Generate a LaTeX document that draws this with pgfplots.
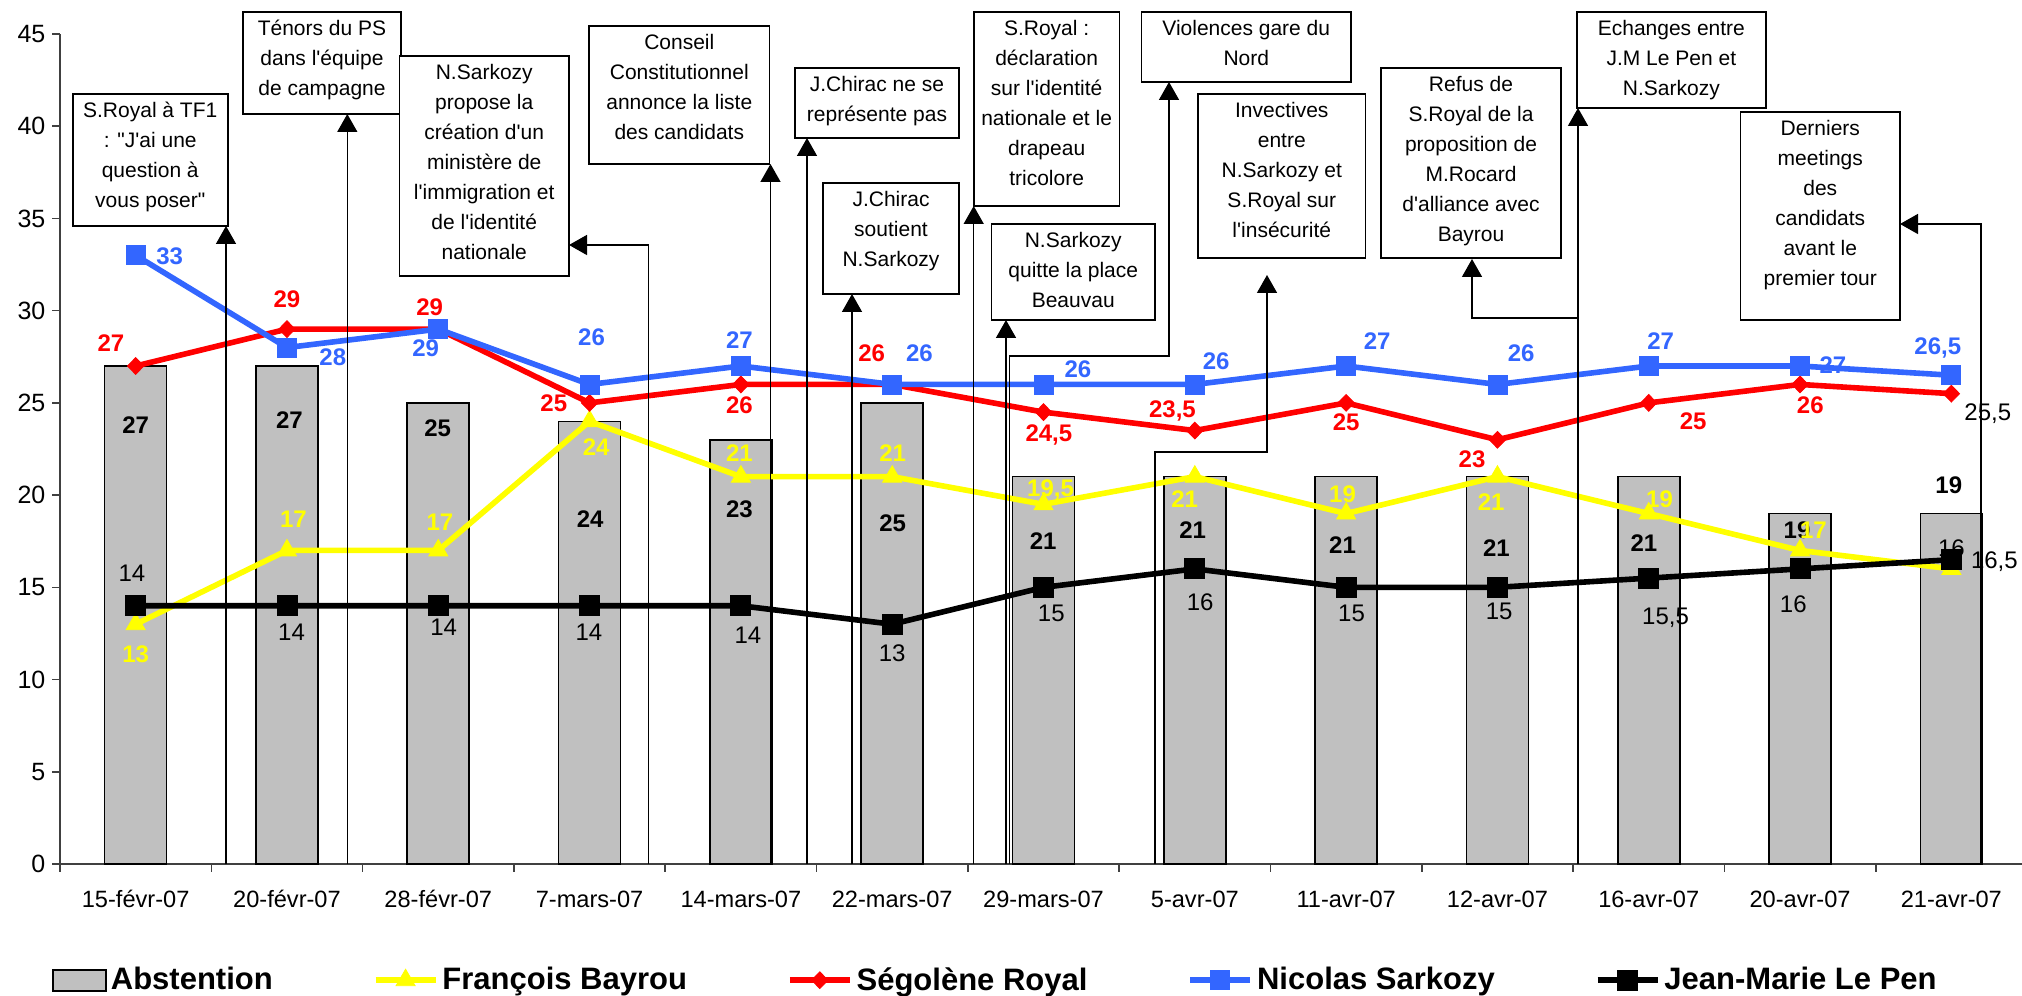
\documentclass[border=0pt]{standalone}
\usepackage{fontspec}
\setmainfont{Liberation Sans}[Ligatures=TeXOff]
\usepackage{pgfplots}
\usepackage{pgfplotstable}
\pgfplotsset{compat=1.18}
\usetikzlibrary{arrows.meta}

\definecolor{absgray}{RGB}{192,192,192}
\definecolor{sarblue}{RGB}{51,102,255}
\definecolor{bayyellow}{RGB}{255,255,0}

% x y label, then the label offset dx dy in pt
\pgfplotstableread{
x y lab dx dy
0 27 27 0 -29.5
1 27 27 1.2 -27.3
2 25 25 -0.3 -12.4
3 24 24 0.3 -48.8
4 23 23 -0.7 -34.8
5 25 25 0.2 -59.9
6 21 21 -0.2 -32
7 21 21 -1.1 -26.6
8 21 21 -1.8 -34.2
9 21 21 -0.5 -35.8
10 21 21 -2.4 -33
11 19 19 -1.5 -8.2
12 19 19 -1.3 14.3
}\tabAbs

\pgfplotstableread{
x y lab dx dy
0 13 13 0 -14.9
1 17 17 3.2 15.7
2 17 17 0.8 13.9
3 24 24 3.3 -12.7
4 21 21 -0.7 11.7
5 21 21 0.2 11.7
6 19.5 19,5 3.5 8.3
7 21 21 -5.1 -11.3
8 19 19 -1.8 9.8
9 21 21 -3.1 -12.5
10 19 19 5.4 7.2
11 17 17 6.7 10.2
12 16 {} 0 10.3
}\tabBay

\pgfplotstableread{
x y lab dx dy
0 27 27 -12.4 11.4
1 29 29 0 15
2 29 29 -4.3 11.2
3 25 25 -17.9 0
4 26 26 -0.7 -10.3
5 26 26 -10.3 15.5
6 24.5 24,5 2.7 -10.6
7 23.5 23,5 -11.2 10.6
8 25 25 0 -9.4
9 23 23 -12.7 -9.6
10 25 25 22.2 -9
11 26 26 5.1 -10.3
12 25.5 {} 18.2 -9.3
}\tabRoy

\pgfplotstableread{
x y lab dx dy
0 33 33 17 -0.3
1 28 28 22.9 -4.6
2 29 29 -6.3 -9.6
3 26 26 1 23.6
4 27 27 -0.7 12.7
5 26 26 13.6 15.5
6 26 26 17.2 7.7
7 26 26 10.7 11.7
8 27 27 15.5 12.2
9 26 26 11.9 15.5
10 27 27 6 12.2
11 27 27 16.4 0.5
12 26.5 26,5 -6.8 14.8
}\tabSar

\pgfplotstableread{
x y lab dx dy
0 14 14 -1.9 16.3
1 14 14 2.3 -13
2 14 14 2.7 -10.5
3 14 14 -0.3 -13
4 14 14 3.5 -14.6
5 13 13 0 -14.6
6 15 15 3.9 -13
7 16 16 2.7 -16.4
8 15 15 2.7 -13
9 15 15 0.9 -12.2
10 15.5 15,5 8.4 -19
11 16 16 -3.4 -17.6
12 16.5 16,5 21.5 0
}\tabLep

\pgfplotsset{
  lab/.style={
    nodes near coords,
    point meta=explicit symbolic,
    visualization depends on={\thisrow{dx}\as\labdx},
    visualization depends on={\thisrow{dy}\as\labdy},
    every node near coord/.append style={anchor=center, inner sep=0pt,
      text depth=0pt, xshift=\labdx pt, yshift=\labdy pt,
      font=\fontsize{12pt}{14pt}\selectfont#1},
  },
  lab/.default=\bfseries,
}

% annotation box: x1 y1 x2 y2 (pixels of the reference), text
\newcommand\abox[5]{%
  \draw[line width=0.8pt, fill=white] (#1,#2) rectangle (#3,#4);
  \node[anchor=north, inner sep=0pt, align=center,
        font=\fontsize{10.5pt}{15pt}\selectfont]
    at ({(#1+#3)/2},{#2+4}) {\rule{0pt}{9.5pt}#5};}

\begin{document}
\begin{tikzpicture}
\begin{axis}[
  at={(0pt,0pt)}, anchor=south west,
  width=983.5pt, height=415pt, scale only axis,
  axis lines*=left,
  axis line style={line width=0.8pt, black!75},
  tick style={line width=0.8pt, black!75},
  tick align=outside,
  major tick length=3.8pt,
  clip=false,
  xmin=-0.5, xmax=12.5,
  ymin=0, ymax=45,
  ytick={0,5,...,45},
  xtick={-0.5,0.5,...,12.5},
  xticklabels={},
  extra x ticks={0,...,12},
  extra x tick labels={15-févr-07,20-févr-07,28-févr-07,7-mars-07,14-mars-07,22-mars-07,29-mars-07,5-avr-07,11-avr-07,12-avr-07,16-avr-07,20-avr-07,21-avr-07},
  extra x tick style={major tick length=0pt},
  xticklabel style={anchor=base, yshift=-21.7pt, font=\fontsize{11.8pt}{14pt}\selectfont},
  yticklabel style={font=\fontsize{12.5pt}{14pt}\selectfont},
  /pgf/number format/assume math mode=true,
  legend columns=5,
  legend cell align=left,
  legend style={draw=none, fill=none, inner sep=0pt,
    at={(-0.0041,-0.14)}, anchor=west,
    font=\fontsize{15.5pt}{18pt}\selectfont\bfseries,
    /tikz/every even column/.append style={column sep=48pt}},
  legend image code/.code={\draw[mark repeat=2,mark phase=2,#1]
    plot coordinates {(0pt,0pt) (15pt,0pt) (30pt,0pt)};},
]
\addplot[ybar, bar width=31pt, fill=absgray, draw=black, line width=0.8pt, lab,
  nodes near coords style={text=black},
  legend image code/.code={\draw[fill=absgray,draw=black,line width=0.8pt]
    (0pt,-5.25pt) rectangle (26.5pt,5.25pt);}]
  table[x=x, y=y, meta=lab] {\tabAbs};
\addplot[bayyellow, line width=2.8pt, mark=triangle*, mark size=5.5pt,
  mark options={solid, line width=0.4pt, fill=bayyellow}, lab]
  table[x=x, y=y, meta=lab] {\tabBay};
\addplot[red, line width=2.8pt, mark=diamond*, mark size=4.2pt,
  mark options={solid, line width=0.4pt, fill=red, xscale=1.3}, lab]
  table[x=x, y=y, meta=lab] {\tabRoy};
\addplot[sarblue, line width=2.8pt, mark=square*, mark size=4.75pt,
  mark options={solid, line width=0.4pt, fill=sarblue}, lab]
  table[x=x, y=y, meta=lab] {\tabSar};
\addplot[black, line width=2.8pt, mark=square*, mark size=5pt,
  mark options={solid, line width=0.4pt, fill=black}, lab={}]
  table[x=x, y=y, meta=lab] {\tabLep};
\legend{Abstention, François Bayrou, Ségolène Royal, Nicolas Sarkozy, Jean-Marie Le Pen}

% the two labels that Excel set in black regular type
\node[font=\fontsize{12pt}{14pt}\selectfont, inner sep=0pt, text depth=0pt,
  xshift=0pt, yshift=10.3pt] at (axis cs:12,16) {16};
\node[font=\fontsize{12pt}{14pt}\selectfont, inner sep=0pt, text depth=0pt,
  xshift=18.2pt, yshift=-9.3pt] at (axis cs:12,25.5) {25,5};
\end{axis}

% events, placed in the reference's pixel grid
\begin{scope}[x=0.5pt, y=-0.5pt, shift={(-30pt,432pt)}]
\tikzset{arr/.style={line width=0.75pt, -{Triangle[length=9pt,width=10pt]}}}
\abox{72.8}{94}{227.7}{226}{S.Royal à TF1\\: "J'ai une\\question à\\vous poser"}
\abox{243}{12}{401}{114}{Ténors du PS\\dans l'équipe\\de campagne}
\abox{399.5}{56}{569}{276}{N.Sarkozy\\propose la\\création d'un\\ministère de\\l'immigration et\\de l'identité\\nationale}
\abox{589}{26}{769.6}{164}{Conseil\\Constitutionnel\\annonce la liste\\des candidats}
\abox{795}{68}{959}{138}{J.Chirac ne se\\représente pas}
\abox{823}{183}{959}{294}{J.Chirac\\soutient\\N.Sarkozy}
\abox{973.7}{12}{1119.6}{206}{S.Royal :\\déclaration\\sur l'identité\\nationale et le\\drapeau\\tricolore}
\abox{991.5}{224}{1155}{320}{N.Sarkozy\\quitte la place\\Beauvau}
\abox{1141.5}{12}{1351}{82}{Violences gare du\\Nord}
\abox{1198}{94}{1365.5}{258}{Invectives\\entre\\N.Sarkozy et\\S.Royal sur\\l'insécurité}
\abox{1381}{68}{1561}{258}{Refus de\\S.Royal de la\\proposition de\\M.Rocard\\d'alliance avec\\Bayrou}
\abox{1576.7}{12}{1766}{108}{Echanges entre\\J.M Le Pen et\\N.Sarkozy}
\abox{1740.5}{112}{1900}{320}{Derniers\\meetings\\des\\candidats\\avant le\\premier tour}

\draw[arr] (226,864) -- (226,226);
\draw[arr] (347.3,864) -- (347.3,114);
\draw[arr] (648.7,864) -- (648.7,245) -- (569,245);
\draw[arr] (770.5,864) -- (770.5,164);
\draw[arr] (807,864) -- (807,138);
\draw[arr] (852,864) -- (852,294);
\draw[arr] (973.7,864) -- (973.7,206);
\draw[arr] (1006,864) -- (1006,320);
\draw[arr] (1009.5,864) -- (1009.5,356) -- (1169,356) -- (1169,82);
\draw[arr] (1155,864) -- (1155,452) -- (1267,452) -- (1267,275);
\draw[arr] (1578,864) -- (1578,108);
\draw[arr] (1578,318) -- (1472,318) -- (1472,259);
\draw[arr] (1981,864) -- (1981,224) -- (1900,224);
\end{scope}

\pgfresetboundingbox
\path[use as bounding box] (-30pt,-65.5pt) rectangle (981pt,432pt);
\end{tikzpicture}
\end{document}
